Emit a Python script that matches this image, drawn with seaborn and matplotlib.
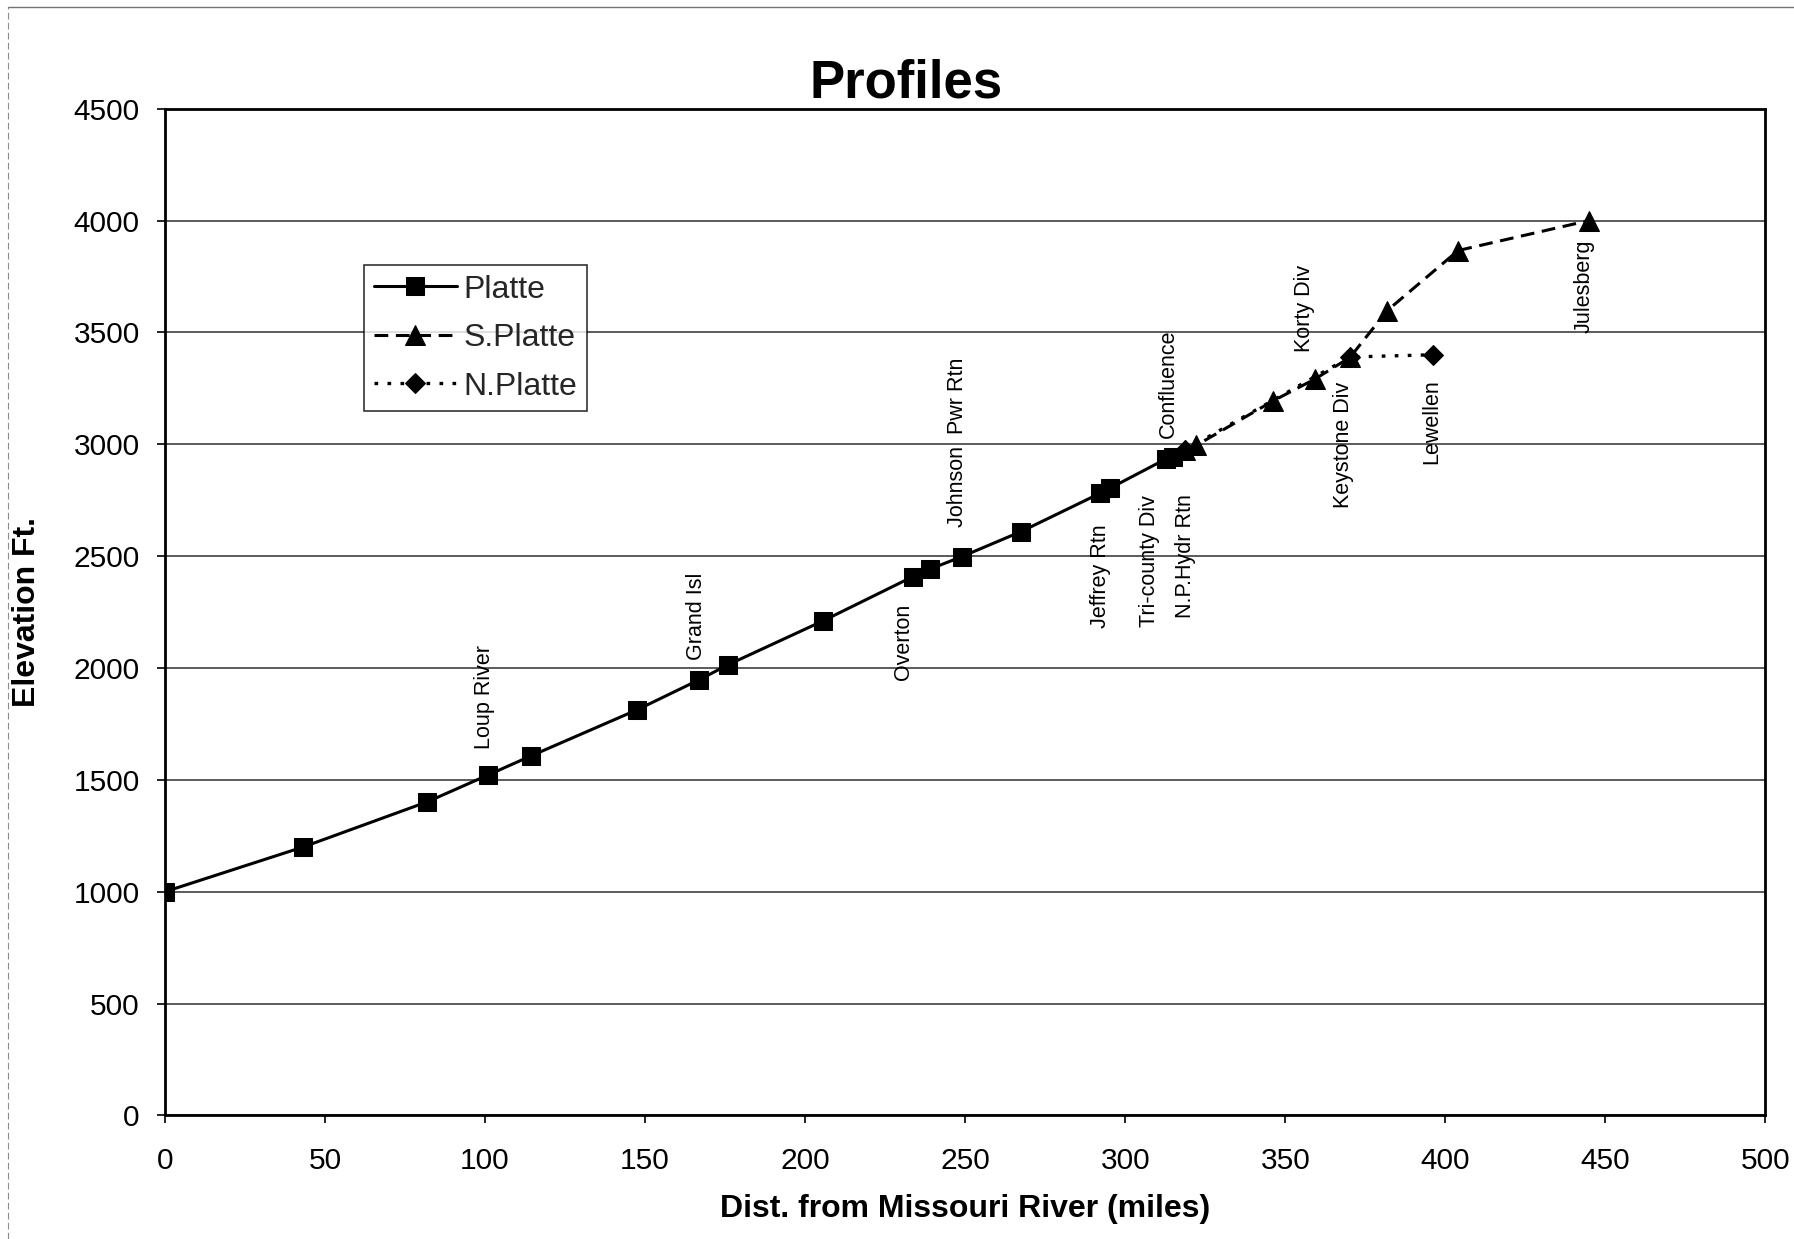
import matplotlib
matplotlib.use("Agg")
import matplotlib.pyplot as plt
from matplotlib.lines import Line2D
import seaborn as sns
import pandas as pd

# ---------------- data ----------------
platte_x = [0, 43.2, 82, 101, 114.5, 147.5, 167, 176, 205.5, 233.6, 239, 249,
            267.5, 292, 295.3, 312.8, 314.8]
platte_y = [1000, 1200, 1402, 1522, 1608, 1813, 1948, 2015, 2210, 2408, 2442,
            2498, 2610, 2780, 2804, 2935, 2945]

splatte_x = [318.7, 322.2, 346.2, 359.2, 370.2, 381.8, 404.0, 444.9]
splatte_y = [2975, 2995, 3194, 3291, 3388, 3597, 3866, 4000]

nplatte_x = [318.7, 370.2, 396.0]
nplatte_y = [2975, 3390, 3400]

site_names = ["Loup River", "Grand Isl", "Overton", "Johnson  Pwr Rtn",
              "Jeffrey Rtn", "Tri-county Div", "N.P.Hydr Rtn", "Confluence",
              "Korty Div", "Keystone Div", "Lewellen", "Julesberg"]
site_x = [100.0, 166.2, 230.6, 247.6, 292.3, 307.6, 318.8, 313.4,
          356.0, 368.2, 395.8, 443.4]
site_y = [1636, 2036, 1946, 2632, 2178, 2185, 2222, 3027,
          3414, 2715, 2912, 3496]

x_ticks = [0, 50, 100, 150, 200, 250, 300, 350, 400, 450, 500]
y_ticks = [0, 500, 1000, 1500, 2000, 2500, 3000, 3500, 4000, 4500]

title = "Profiles"
x_label = "Dist. from Missouri River (miles)"
y_label = "Elevation Ft."

# ---------------- style ----------------
sns.set_theme(style="white")
plt.rcParams["font.family"] = ["Liberation Sans", "DejaVu Sans"]

fig = plt.figure(figsize=(17.94, 12.39), dpi=100)
ax = fig.add_axes([0.0919, 0.0997, 0.8922, 0.8126])

df_p = pd.DataFrame({"x": platte_x, "y": platte_y})
df_s = pd.DataFrame({"x": splatte_x, "y": splatte_y})
df_n = pd.DataFrame({"x": nplatte_x, "y": nplatte_y})

sns.lineplot(data=df_p, x="x", y="y", ax=ax, sort=False, color="black",
             linewidth=2.2, marker="s", markersize=13, markeredgecolor="black",
             label="Platte", zorder=4)
sns.lineplot(data=df_s, x="x", y="y", ax=ax, sort=False, color="black",
             linewidth=2.2, linestyle=(0, (4.5, 2.5)), marker="^",
             markersize=14.5, markeredgecolor="black", label="S.Platte", zorder=5)
sns.lineplot(data=df_n, x="x", y="y", ax=ax, sort=False, color="black",
             linewidth=2.4, linestyle=(0, (1.1, 2.8)), marker="D",
             markersize=10.5, markeredgecolor="black", label="N.Platte", zorder=3)

for name, sx, sy in zip(site_names, site_x, site_y):
    ax.text(sx, sy, name, rotation=90, ha="center", va="bottom",
            fontsize=15.5, color="black", zorder=6)

ax.set_xlim(0, 500)
ax.set_ylim(0, 4500)
ax.set_xticks(x_ticks)
ax.set_yticks(y_ticks)
ax.tick_params(axis="both", direction="out", length=6, width=1.2,
               color="black", labelsize=21.5, labelcolor="black")
ax.tick_params(axis="y", pad=12, left=True)
ax.tick_params(axis="x", pad=17, bottom=True)

ax.yaxis.grid(True, color="0.3", linewidth=1.3)
ax.xaxis.grid(False)
ax.set_axisbelow(True)
for sp in ax.spines.values():
    sp.set_color("black")
    sp.set_linewidth(2.0)
    sp.set_visible(True)

ax.set_xlabel(x_label, fontsize=23, fontweight="bold", color="black")
ax.set_ylabel(y_label, fontsize=23, fontweight="bold", color="black")
ax.xaxis.set_label_coords(0.5, -0.078)
ax.yaxis.set_label_coords(-0.0767, 0.5)

fig.text(0.505, 0.921, title, ha="center", va="baseline", fontsize=38,
         fontweight="bold", color="black")

leg = ax.legend(loc="upper left", bbox_to_anchor=(0.1245, 0.8447),
                borderaxespad=0, fontsize=23, frameon=True, fancybox=False,
                edgecolor="black", handlelength=2.6, handletextpad=0.2,
                borderpad=0.3, labelspacing=0.58)
leg.get_frame().set_linewidth(1.2)

# faint outer chart border (scan edge)
fig.add_artist(Line2D([0.0045, 1.0], [0.9945, 0.9945], transform=fig.transFigure,
                      color="0.45", linewidth=1.0))
fig.add_artist(Line2D([0.0045, 0.0045], [0.0, 0.9945], transform=fig.transFigure,
                      color="0.55", linewidth=0.8, linestyle=(0, (6, 3))))

fig.savefig("out.png", dpi=100, facecolor="white")
